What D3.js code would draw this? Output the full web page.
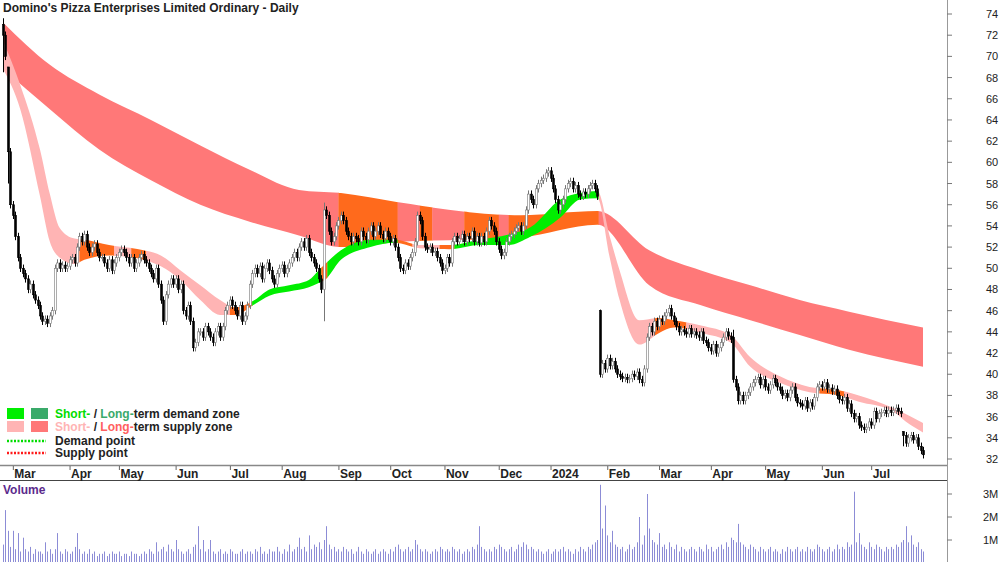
<!DOCTYPE html>
<html><head><meta charset="utf-8">
<script src="https://cdn.jsdelivr.net/npm/d3@7/dist/d3.min.js"></script>
<style>body{margin:0;background:#fff}svg{display:block;font-family:"Liberation Sans",Arial,sans-serif}</style>
</head><body><svg id="c" width="1000" height="562"></svg>
<script>
const title = "Domino's Pizza Enterprises Limited Ordinary - Daily";
const startDate = "2023-02-21", endDate = "2024-07-26";
const closes = [
72,70,61,56,55,53,51,50,49.5,49, 48,48.5,47.5,47,46.5,45.5,45,45.2,44.8,45.5,
46,50,50.5,50,50.3,50,50.2,50.8,51,50.5, 52,53,52.5,53.2,52,51.5,52,52.3,51.5,51,
51,50.5,50,50.8,49.8,50.5,51,51.5,51.8,51.5, 51,50.5,51,50,50.5,51,51.3,50.8,50.5,50,
49.5,49,50,48.5,47,45,47.5,48.5,49,48.5, 49,48,48.5,46,45.5,46.5,45,42.5,43,44,
44,43.5,44.5,44,43.5,43,44,44.5,43.5,44.5, 46,46.5,47,46.5,46,45.5,46.5,45,45.5,46.5,
48.5,49.5,50,49.5,50.2,49,50,50.5,49.8,49, 48.5,49.5,50,50.3,49.5,50,50.5,51,51.5,51,
52,52.5,52,52.8,51.5,51,50.5,50,49,48, 55.5,55,53.5,52.5,53,54,54.5,55,54.5,53.5,
53,52.5,53,52.8,52.5,53.5,53,52.7,53.5,54, 53,53.5,54,53.2,52.8,53.5,53,52.5,52.8,52,
51,50,49.8,50.5,50.2,51,51.5,52.5,55,54.5, 53,52,51.8,52,51.5,51.6,51,50.5,49.8,50,
51,50.5,52.5,53,52.5,52.8,53.2,52.5,53,52.8, 53.5,52.5,53,52.4,53,52.5,53.5,54.5,54,53.5,
52.5,51.8,51.2,51.5,52.5,53,53.2,53.5,53.8,54, 53.5,54,55.5,57,56.5,56,57.5,58,58.3,58.5,
59,59.2,58.5,57.5,56.5,55.5,56,56.5,57.5,58, 58.2,57.5,57.8,57,56.8,57.2,57,57.5,57.8,58,
57.5,56.8,40,41,40.5,41.5,40.8,41.2,40.5,40, 39.8,39.6,39.7,39.5,39.6,40,39.8,40.2,39.5,39.2,
40.5,43.5,44.5,44,45,44.5,45.2,45,45.5,45.8, 46.2,45.5,45,44.5,44,44.2,44,43.8,44.3,43.8,
44,43.7,43.5,44,43.2,43,42.5,42.2,42.8,42, 42.5,43,43.5,44,43.6,43.3,39.5,38.8,37.5,38,
37.5,38,38.3,38.8,39.2,39.5,39.7,39,39.5,38.8, 38.5,39,39.6,39.2,38.8,38.5,38,38.2,37.8,38.5,
38.8,37.8,37.3,37.2,37,37.5,36.8,37.3,37,37.8, 38.8,39,38.8,39.2,38.6,38.7,38.4,38.6,38,37.6,
37.5,37.8,36.8,37.2,36.3,35.8,36,35.2,35,34.8, 35,35.5,35.2,36.5,35.8,36.3,36.4,36.6,36.3,36.6,
36.4,36.6,36.8,36.5,36.3,34.2,33.5,34,34.2,33.8,34,33.2,32.8,32.4];
// explicit open/high/low where the picture shows gaps or spikes
const overrides = {0:{o:73,h:73.6,l:68.5},2:{o:69,h:69,l:58},130:{o:48,h:56.2,l:45},242:{o:46,h:46.1,l:39.7},296:{o:43.5,h:44.2,l:39.2},365:{o:34.6,h:34.6,l:33.2}};
const volumes = [
.8,2.3,1.4,.7,1.4,.6,1.3,.5,1.1,.6,.5,.7,.4,.6,.5,.5,.4,.9,.5,.6,
.4,.6,1.3,.5,.4,.6,.5,.4,.5,.7,1.3,.6,.4,.5,.4,.6,.4,.5,.3,.4,
.4,.5,.3,.4,.5,.4,.4,.5,.3,.4,.4,.3,.5,.4,.4,.3,.4,.5,.4,.6,
.5,.4,.9,.5,.6,.7,.5,.8,.6,.5,1.0,.6,.5,.4,.5,.6,.4,.7,.8,1.6,
.6,1.0,.5,.6,1.0,.5,.4,.5,.6,.4,.5,.4,.6,.5,.4,.4,.5,.6,.4,.5,
.5,.4,.6,.5,.7,.4,.5,.4,.6,.5,.5,.7,.5,.4,.6,.5,.8,.5,.6,.7,
1.1,.6,.7,.5,1.2,.6,.8,.7,.9,.6,1.0,1.6,.8,.6,.7,.5,.6,.5,.7,.6,
.5,.6,.4,.5,.7,.5,.4,.6,.5,.4,.5,.6,.4,.5,.6,.5,.4,.6,.5,.7,
.8,.6,.5,.6,.7,.5,.6,1.0,.8,.6,.5,.6,.5,.4,.5,.6,.5,.7,.6,.5,
.6,.5,.7,.6,.5,.6,.4,.5,.6,.5,.7,.6,.8,1.6,.7,.6,.5,.6,.5,.7,
.6,.8,.7,.6,.5,.6,.7,.5,.6,.8,.7,.9,.8,.6,.7,.6,.5,.6,.5,.4,
.5,.6,.4,.5,.6,.5,.6,.7,.5,.6,.5,.4,.6,.5,.7,.6,.5,.7,.6,.8,
.9,1.0,3.4,1.5,2.5,1.2,.9,1.4,.8,.7,.6,.7,.5,.6,.8,.6,.7,.9,2.0,.8,
1.2,3.0,1.5,1.0,.9,.8,1.3,.7,.8,.6,.9,.7,.6,.8,.5,.7,.6,.5,.6,.7,
.6,.5,.7,.6,.5,.8,.6,.7,.5,.6,.7,.8,.6,.9,.7,1.1,1.0,.9,1.7,.9,
.8,.7,.6,.8,.7,.6,.5,.7,.6,.5,.6,.7,.5,.6,.5,.4,.6,.5,.7,.6,
.5,.6,.7,.5,.6,.5,.7,.6,.5,.6,.8,.7,.6,.5,.6,.7,.5,.6,.8,.6,
.7,.6,.9,.7,.8,3.1,.9,1.3,.8,.7,.6,.9,.7,.6,.8,.7,.6,.5,.7,.6,
.7,.6,.8,.7,.9,1.0,1.6,.9,1.2,.8,.7,.9,.6,.5];
// bands: [day index, upper, lower]
const longBand = [[0,73.2,68.8],[19,69.2,65],[39,66.4,61.2],[60,64,58.3],[80,61.6,56],[100,59.3,54.4],[120,57.4,53.1],[137,57.1,52],[161,56.2,52.5],[189,55.3,52.7],[210,55,52.9],[241,55.4,54.1],[262,51.7,48.4],[283,49.8,46.5],[303,48.4,45.1],[323,47,43.7],[343,45.9,42.3],[373,44.4,40.7]];
const shortBand = [[0,71.5,68.8],[7,67.3,65],[15,61.2,56.8],[19,57,52.5],[23,53.8,51],[29,52.8,50.4],[33,52.7,50.8],[43,52.2,51.2],[57,51.7,50.8],[64,51.2,50.2],[72,49.8,48.9],[80,48.4,47],[88,47,45.6],[94,46.3,45.6],[102,47,46.6],[108,48,47.4],[116,48.4,47.8],[124,48.9,48.2],[128,49.8,48.6],[131,50.5,49],[137,51.7,50.8],[149,52.7,52],[159,52.7,52.4],[169,52.2,51.9],[181,52.2,51.8],[193,52.7,52.2],[205,53.2,52.2],[214,53.9,53],[226,56.5,54.8],[234,57.1,56.5],[241,57.3,56.6],[246,53,51],[250,49.8,47],[258,45.1,42.8],[266,45.3,43.9],[272,45.1,44.4],[283,44.6,43.9],[295,43.7,43],[303,41.6,40.7],[315,39.8,39.2],[327,38.8,38.3],[339,38.5,38],[347,38,37.4],[360,36.9,36.6],[368,36,35.2],[373,35.4,34.5]];
// zone segments: [from index, to index, zone]
const longZones = [[0,136,"ls"],[136,160,"ov"],[160,169,"ls"],[169,174,"ov"],[174,187,"ls"],[187,201,"ov"],[201,205,"ls"],[205,241.5,"ov"],[241.5,374,"ls"]];
const shortZones = [[0,31,"ss"],[31,45,"ov"],[45,52,"ss"],[52,58,"ov"],[58,92,"ss"],[92,101,"ov"],[101,129,"sd"],[129,131.5,"ov"],[131.5,160,"sd"],[160,166,"ov"],[166,177,"ss"],[177,183,"ov"],[183,241.5,"sd"],[241.5,264,"ss"],[264,277,"ov"],[277,331,"ss"],[331,341,"ov"],[341,374,"ss"]];
const priceTicks = d3.range(32,75,2);
const volTicks = [[1,"1M"],[2,"2M"],[3,"3M"]];

const zoneColor = {ls:"#ff7878",ss:"#ffb4b4",sd:"#00ee00",ld:"#3aaa6a",ov:"#ff6a1c"};
// trading days
const days = d3.timeDay.range(new Date(startDate+"T12:00"), new Date(endDate+"T13:00")).filter(d=>d.getDay()%6!==0);
const N = closes.length;
const svg = d3.select("#c");
const x = d3.scaleLinear().domain([0,N-1]).range([3,923]);
const y = d3.scaleLinear().domain([32,74]).range([459,14]);
const yv = d3.scaleLinear().domain([0,3]).range([563,494]);

// bands
const defs = svg.append("defs");
let cid=0;
function drawBand(pts, zones){
  const area = d3.area().curve(d3.curveMonotoneX).x(d=>x(d[0])).y0(d=>y(d[2])).y1(d=>y(d[1]));
  zones.forEach(z=>{
    const id="cl"+(cid++);
    defs.append("clipPath").attr("id",id).append("rect")
      .attr("x",x(z[0])).attr("width",x(z[1])-x(z[0])+0.3).attr("y",0).attr("height",465);
    svg.append("path").datum(pts).attr("d",area).attr("fill",zoneColor[z[2]]).attr("clip-path",`url(#${id})`);
  });
}
drawBand(longBand,longZones);
drawBand(shortBand,shortZones);

// candles
const g = svg.append("g");
closes.forEach((c,i)=>{
  const ov = overrides[i]||{};
  const o = ov.o!==undefined?ov.o:(i?closes[i-1]:c);
  const h = ov.h!==undefined?ov.h:Math.max(o,c)+0.35;
  const l = ov.l!==undefined?ov.l:Math.min(o,c)-0.35;
  const xc = Math.round(x(i))+0.5;
  const up = c>=o;
  g.append("line").attr("x1",xc).attr("x2",xc).attr("y1",y(h)).attr("y2",y(l)).attr("stroke",up?"#777":"#000").attr("stroke-width",1);
  const top=y(Math.max(o,c)), bot=y(Math.min(o,c));
  g.append("rect").attr("x",xc-1).attr("width",2).attr("y",top).attr("height",Math.max(1,bot-top))
    .attr("fill",up?"#fff":"#000").attr("stroke",up?"#777":"#000").attr("stroke-width",0.6);
});

// title
svg.append("text").attr("x",3).attr("y",12).attr("font-size",12).attr("font-weight","bold").attr("fill","#222").text(title);

// right axis
svg.append("line").attr("x1",947.5).attr("x2",947.5).attr("y1",0).attr("y2",562).attr("stroke","#999");
priceTicks.forEach(t=>{
  svg.append("line").attr("x1",947).attr("x2",952).attr("y1",y(t)).attr("y2",y(t)).attr("stroke","#777");
  svg.append("text").attr("x",986).attr("y",y(t)+4).attr("font-size",11).attr("fill","#222").text(t);
});
// time axis band
svg.append("rect").attr("x",0).attr("y",465).attr("width",947).attr("height",16).attr("fill","#fff");
svg.append("line").attr("x1",0).attr("x2",947).attr("y1",465.5).attr("y2",465.5).attr("stroke","#888").attr("stroke-width",1.5);
svg.append("line").attr("x1",0).attr("x2",947).attr("y1",480.5).attr("y2",480.5).attr("stroke","#444");
const monthStarts=[];
days.forEach((d,i)=>{ if(i>0 && d.getMonth()!==days[i-1].getMonth()) monthStarts.push([i,d]); });
monthStarts.forEach(([i,d])=>{
  const xx = x(i)-2;
  svg.append("line").attr("x1",xx).attr("x2",xx).attr("y1",466).attr("y2",470).attr("stroke","#666");
  svg.append("text").attr("x",xx+1).attr("y",478).attr("font-size",12).attr("font-weight","bold").attr("fill","#222")
    .text(d.getMonth()===0?d.getFullYear():d3.timeFormat("%b")(d));
});

// volume
svg.append("text").attr("x",3).attr("y",494).attr("font-size",12).attr("font-weight","bold").attr("fill","#5b2a8c").text("Volume");
volumes.forEach((v,i)=>{
  svg.append("line").attr("x1",Math.round(x(i))+0.5).attr("x2",Math.round(x(i))+0.5).attr("y1",yv(0)).attr("y2",yv(v)).attr("stroke","#8c8cd6").attr("stroke-width",1);
});
volTicks.forEach(([v,l])=>{
  svg.append("line").attr("x1",947).attr("x2",952).attr("y1",yv(v)).attr("y2",yv(v)).attr("stroke","#777");
  svg.append("text").attr("x",983).attr("y",yv(v)+4).attr("font-size",11).attr("fill","#222").text(l);
});

// legend
const lg = svg.append("g").attr("font-size",12).attr("font-weight","bold");
[[zoneColor.sd,zoneColor.ld,408],[zoneColor.ss,zoneColor.ls,421]].forEach(([a,b,yy])=>{
  lg.append("rect").attr("x",7).attr("y",yy).attr("width",17).attr("height",11).attr("fill",a);
  lg.append("rect").attr("x",31).attr("y",yy).attr("width",17).attr("height",11).attr("fill",b);
});
function legText(yy, parts){
  const t = lg.append("text").attr("x",55).attr("y",yy);
  parts.forEach(([s,c])=>t.append("tspan").attr("fill",c).text(s));
}
legText(418,[["Short-","#00dd00"],[" / ","#222"],["Long-","#3aaa6a"],["term demand zone","#222"]]);
legText(431,[["Short-","#ffb4b4"],[" / ","#222"],["Long-","#ff6060"],["term supply zone","#222"]]);
lg.append("line").attr("x1",7).attr("x2",46).attr("y1",441).attr("y2",441).attr("stroke","#00dd00").attr("stroke-width",2.5).attr("stroke-dasharray","2,1.5");
lg.append("line").attr("x1",7).attr("x2",46).attr("y1",453).attr("y2",453).attr("stroke","#ff1a1a").attr("stroke-width",2.5).attr("stroke-dasharray","2,1.5");
legText(445,[["Demand point","#222"]]);
legText(457,[["Supply point","#222"]]);
</script></body></html>
